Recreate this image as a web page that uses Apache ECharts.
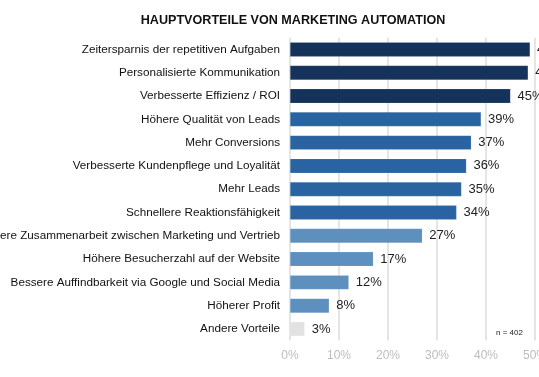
<!DOCTYPE html>
<html><head><meta charset="utf-8">
<script src="https://cdn.jsdelivr.net/npm/echarts@6/dist/echarts.min.js"></script>
<style>html,body{margin:0;padding:0;background:#fff}#c{width:539px;height:377px}</style>
</head><body><div id="c"></div>
<script>
const categories = [
  "Zeitersparnis der repetitiven Aufgaben",
  "Personalisierte Kommunikation",
  "Verbesserte Effizienz / ROI",
  "Höhere Qualität von Leads",
  "Mehr Conversions",
  "Verbesserte Kundenpflege und Loyalität",
  "Mehr Leads",
  "Schnellere Reaktionsfähigkeit",
  "Bessere Zusammenarbeit zwischen Marketing und Vertrieb",
  "Höhere Besucherzahl auf der Website",
  "Bessere Auffindbarkeit via Google und Social Media",
  "Höherer Profit",
  "Andere Vorteile"
];
const values = [49, 48.6, 45, 39, 37, 36, 35, 34, 27, 17, 12, 8, 3];
const groups = ["dark","dark","dark","mid","mid","mid","mid","mid","light","light","light","light","grey"];
const groupColors = {dark:"#15335a", mid:"#2a63a1", light:"#5d8fbf", grey:"#e2e2e2"};
const tickLabels = ["0%","10%","20%","30%","40%","50%"];
const title = "HAUPTVORTEILE VON MARKETING AUTOMATION";
const note = "n = 402";

const chart = echarts.init(document.getElementById('c'), null, {renderer:'canvas'});
chart.setOption({
  animation:false,
  textStyle:{fontFamily:'Liberation Sans, Arial, sans-serif'},
  title:{text:title, left:288, textAlign:'center', top:9,
    textStyle:{fontSize:12.6, fontWeight:'bold', color:'#111', fontFamily:'Liberation Sans, Arial, sans-serif'}},
  graphic:[{type:'text', left:496, top:329, style:{text:note, fontSize:8, fill:'#222', fontFamily:'Liberation Sans, Arial, sans-serif'}}],
  grid:{left:290, top:37.8, width:245, height:302.8, containLabel:false, outerBoundsMode:'none'},
  xAxis:{type:'value', min:0, max:50, interval:10,
    axisLine:{show:false}, axisTick:{show:false},
    splitLine:{show:true, lineStyle:{color:'#dcdcdc', width:1.5}},
    axisLabel:{color:'#bdbdbd', fontSize:12, margin:9,
      formatter:(v)=>tickLabels[Math.round(v/10)]}},
  yAxis:{type:'category', data:categories, inverse:true,
    axisLine:{show:false}, axisTick:{show:false},
    axisLabel:{color:'#111', fontSize:11.7, margin:10}},
  series:[{type:'bar', barWidth:'62%',
    data:values.map((v,i)=>({value:v, itemStyle:{color:groupColors[groups[i]], borderColor:'rgba(255,255,255,0.25)', borderWidth:0.5}})),
    label:{show:true, position:'right', distance:7, color:'#222', fontSize:13,
      formatter:(p)=>Math.round(p.value)+'%'}
  }]
});
</script></body></html>
